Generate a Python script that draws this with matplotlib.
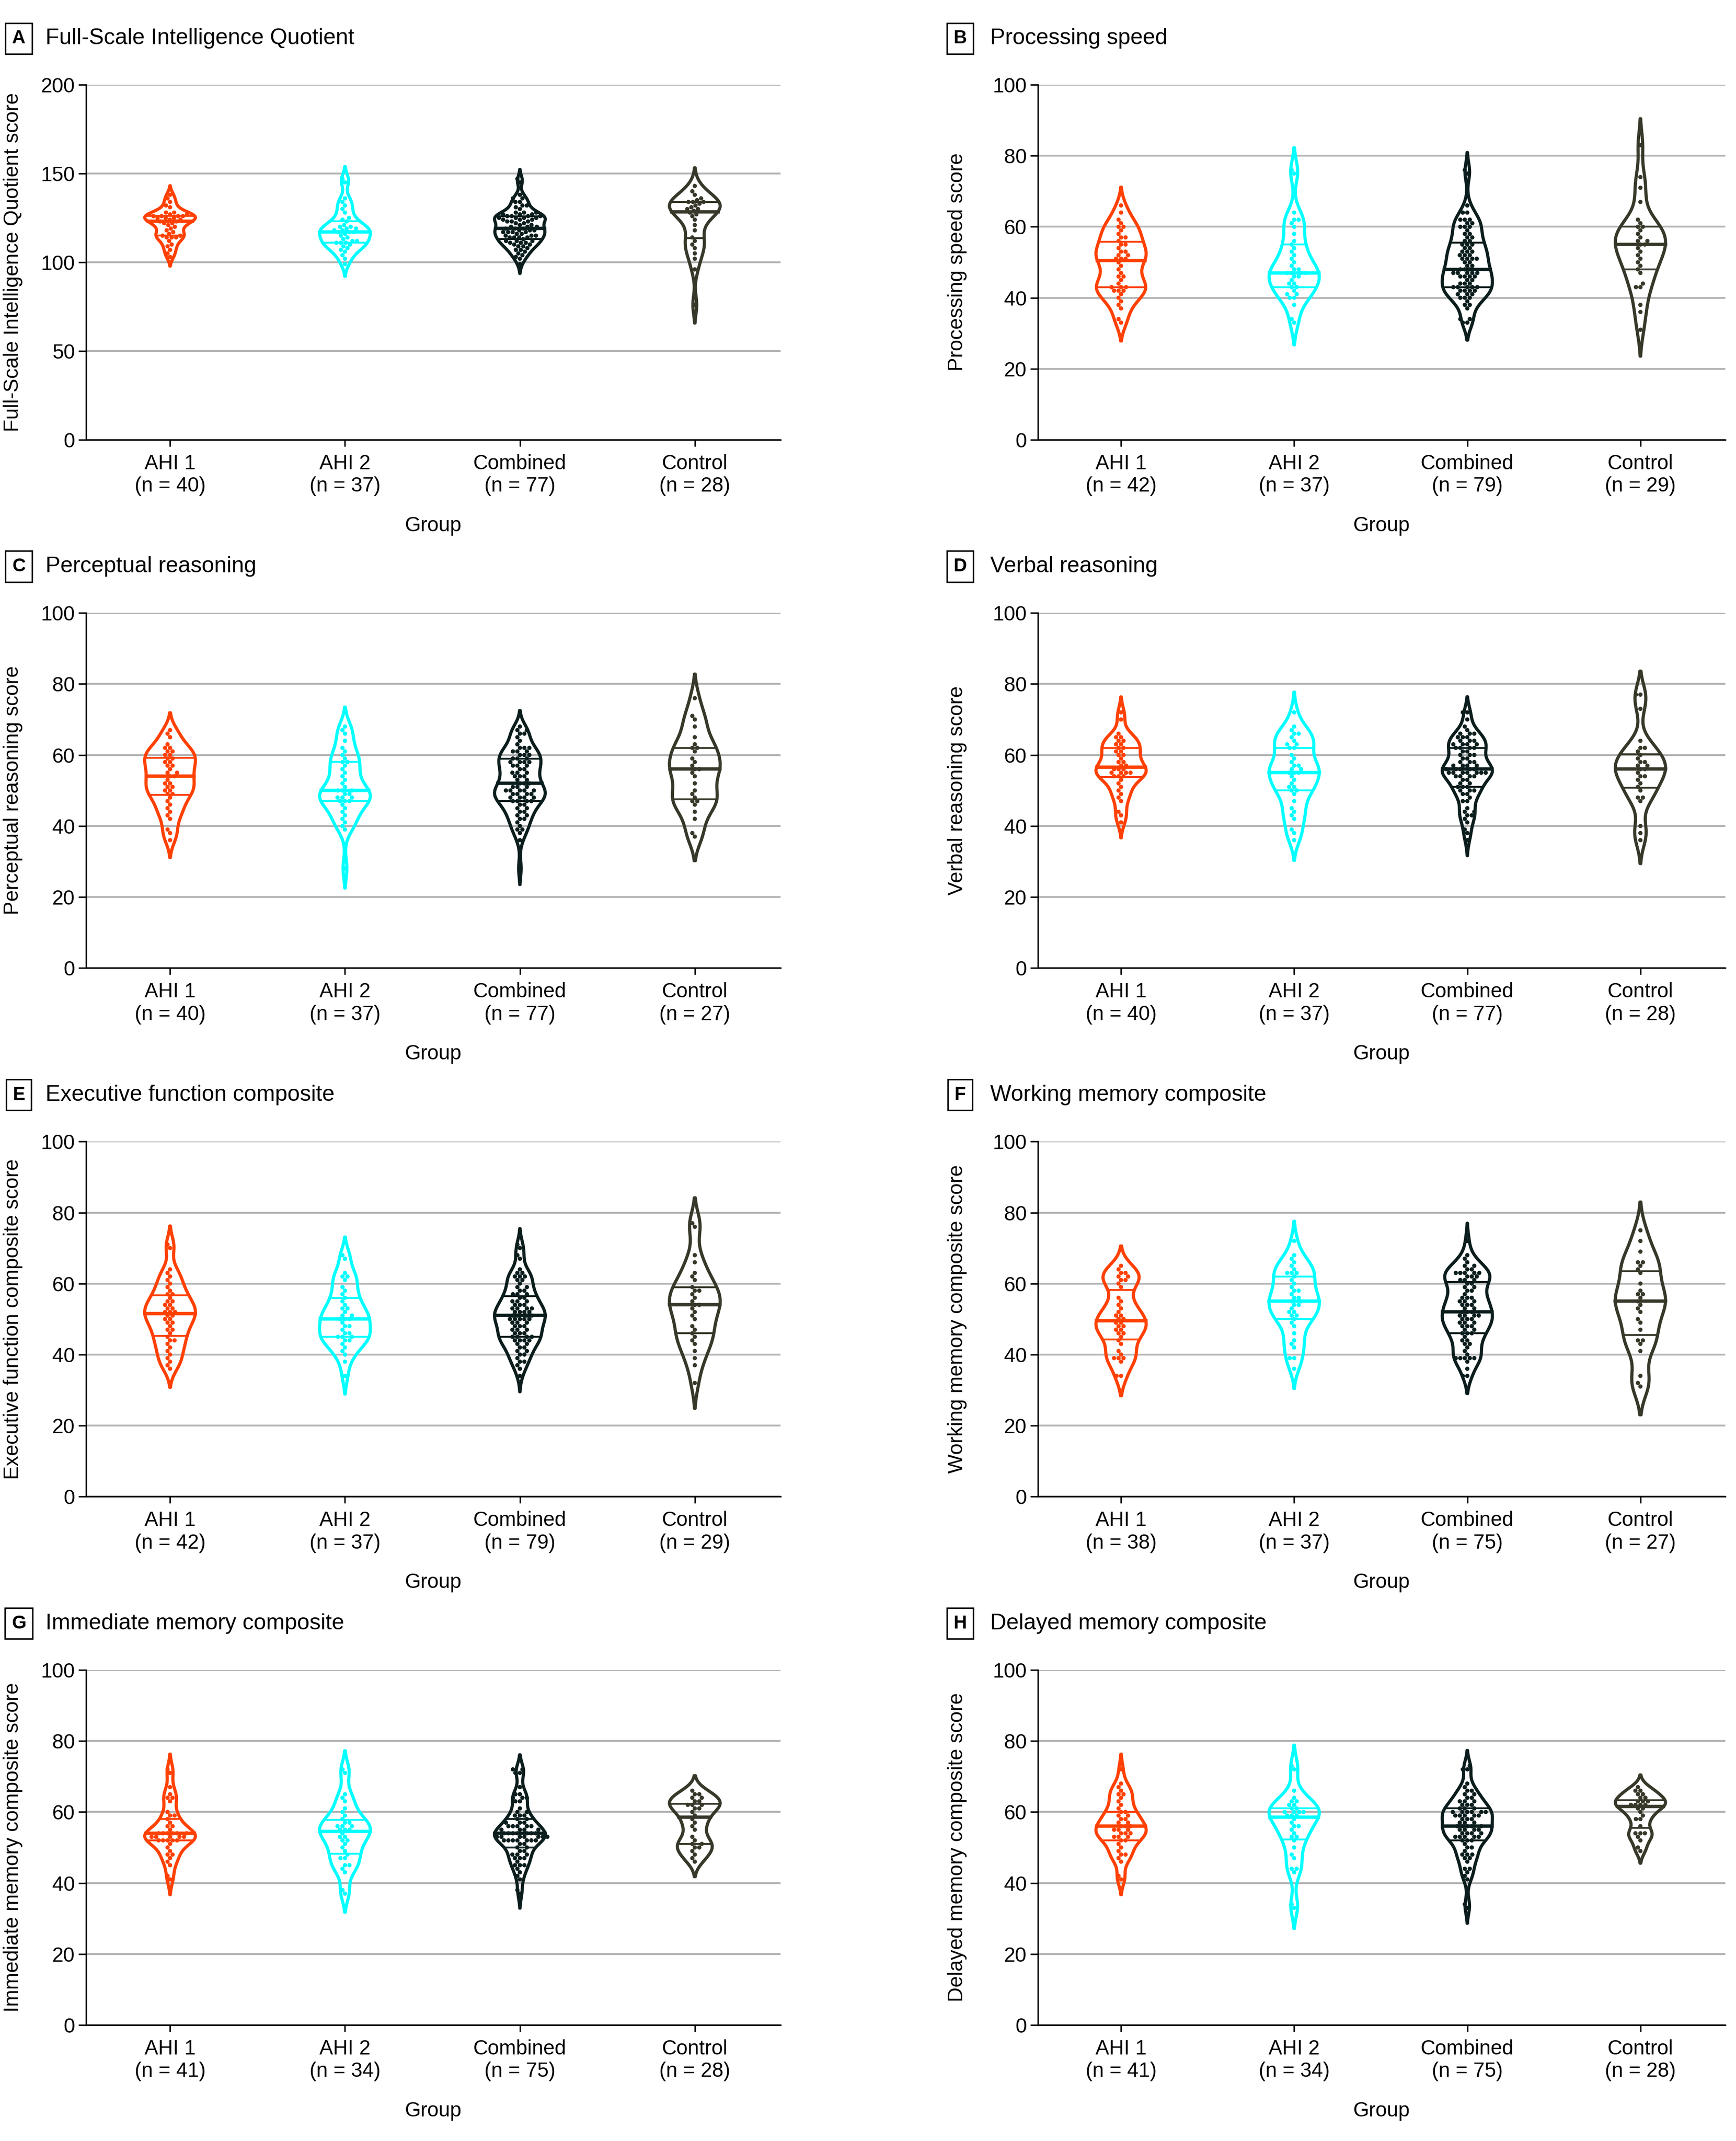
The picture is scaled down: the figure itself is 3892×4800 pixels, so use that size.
import matplotlib
matplotlib.use('Agg')
import matplotlib.pyplot as plt
import numpy as np
import pandas as pd
import seaborn as sns

# scores (Combined = AHI 1 + AHI 2)
ahi1_fsiq = [138,136,134,132,131,128,128,127,127,127,126,126,126,126,125,125,125,124,124,123,
             123,122,122,121,120,119,118,117,116,115,115,114,114,114,112,110,109,107,105,103]
ahi2_fsiq = [147,145,136,134,132,130,128,125,124,123,121,120,120,119,119,118,118,117,117,117,
             116,115,114,113,112,112,111,111,111,110,109,108,107,106,104,102,99]
ctrl_fsiq = [143,140,138,136,135,134,134,134,133,132,131,130,130,129,128,127,126,124,121,118,
             114,112,110,108,105,102,96,76]

ahi1_ps = [66,64,62,61,60,60,59,58,57,57,56,55,55,54,53,53,52,52,51,51,51,50,49,48,47,46,46,45,
           44,43,43,43,42,42,42,41,40,39,38,37,34,33]
ahi2_ps = [76,75,64,62,62,61,60,58,56,55,54,53,52,51,50,49,48,48,47,47,47,47,46,46,45,44,44,43,
           43,42,41,41,40,40,38,34,33]
ctrl_ps = [83,74,71,67,62,61,60,60,59,58,57,56,56,55,55,54,53,52,51,50,49,48,47,44,43,43,38,36,31]

ahi1_pr = [67,66,65,63,62,62,61,61,60,60,59,59,58,58,57,57,56,55,55,54,54,53,52,52,51,51,50,50,
           49,49,48,47,46,45,44,43,42,39,38,36]
ahi2_pr = [68,67,66,64,62,61,60,59,58,58,57,56,55,54,53,52,51,50,50,50,49,49,48,48,48,47,47,47,
           46,45,44,43,42,41,40,39,28]
ctrl_pr = [76,71,70,68,65,63,62,62,61,59,58,57,56,56,55,54,52,50,49,48,47,47,46,44,42,38,37]

ahi1_vr = [72,70,66,65,65,64,64,63,63,62,62,61,61,60,60,59,58,58,57,57,56,56,56,55,55,55,55,54,
           54,54,53,52,51,50,49,48,47,44,43,41]
ahi2_vr = [72,68,67,66,66,65,64,63,63,62,62,60,59,58,57,57,56,56,55,55,55,54,53,52,51,51,50,50,
           49,47,45,44,43,42,39,38,36]
ctrl_vr = [77,77,73,64,62,62,61,60,59,58,58,57,57,56,56,55,54,54,53,52,51,50,48,48,47,40,38,36]

ahi1_ef = [71,70,64,63,62,61,60,59,58,57,57,56,55,55,54,54,53,53,52,52,52,51,51,50,50,49,49,48,
           47,47,46,45,44,44,43,42,41,40,39,38,37,36]
ahi2_ef = [68,67,63,62,62,61,59,58,57,56,55,54,53,53,52,51,51,50,50,50,49,48,48,47,46,46,45,45,
           45,44,44,43,42,41,40,38,34]
ctrl_ef = [77,76,68,66,63,62,61,59,58,58,57,56,55,54,54,53,52,51,50,48,47,46,45,44,43,41,39,37,32]

ahi1_wm = [65,64,63,63,62,62,61,61,60,59,56,55,54,53,52,51,51,50,50,49,49,48,48,47,47,46,46,45,
           44,43,41,40,39,39,39,38,34,34]
ahi2_wm = [72,68,67,66,65,64,63,63,63,62,61,60,59,58,58,57,56,56,55,55,54,54,53,52,52,51,51,50,
           49,48,46,44,43,42,39,39,36]
ctrl_wm = [75,72,69,66,66,65,64,63,60,58,57,57,56,55,54,53,52,50,49,47,44,44,43,41,34,32,31]

ahi1_im = [72,71,67,65,64,64,63,60,59,59,58,57,56,56,55,54,54,54,54,54,54,53,53,53,53,53,52,52,
           52,52,52,51,50,49,48,48,47,46,45,42,41]
ahi2_im = [72,71,65,64,63,61,60,59,58,57,57,56,56,56,55,55,55,54,53,53,52,52,51,50,49,48,47,47,
           45,45,44,43,38,37]
ctrl_im = [66,65,65,64,64,63,63,62,62,62,61,61,60,59,58,57,56,55,53,52,51,51,50,50,49,48,47,46]

ahi1_dm = [72,68,67,66,65,65,64,63,62,61,60,60,59,59,58,58,57,57,56,56,56,55,55,55,54,54,54,53,
           53,53,52,52,51,50,49,48,48,47,46,42,41]
ahi2_dm = [73,72,66,64,63,63,62,62,61,61,60,60,60,60,59,59,59,58,57,56,56,55,54,53,53,52,50,48,
           47,44,44,43,34,33]
ctrl_dm = [67,66,66,65,65,64,64,63,63,63,62,62,62,62,61,61,60,59,58,58,56,54,54,54,53,52,50,49]

groups = ["AHI 1", "AHI 2", "Combined", "Control"]
colors = ["#ff4000", "#00ffff", "#0b1d1d", "#38382a"]

panels = [
    ("A", "Full-Scale Intelligence Quotient", "Full-Scale Intelligence Quotient score",
     ahi1_fsiq, ahi2_fsiq, ctrl_fsiq, [0, 50, 100, 150, 200]),
    ("B", "Processing speed", "Processing speed score", ahi1_ps, ahi2_ps, ctrl_ps, [0, 20, 40, 60, 80, 100]),
    ("C", "Perceptual reasoning", "Perceptual reasoning score", ahi1_pr, ahi2_pr, ctrl_pr, [0, 20, 40, 60, 80, 100]),
    ("D", "Verbal reasoning", "Verbal reasoning score", ahi1_vr, ahi2_vr, ctrl_vr, [0, 20, 40, 60, 80, 100]),
    ("E", "Executive function composite", "Executive function composite score",
     ahi1_ef, ahi2_ef, ctrl_ef, [0, 20, 40, 60, 80, 100]),
    ("F", "Working memory composite", "Working memory composite score",
     ahi1_wm, ahi2_wm, ctrl_wm, [0, 20, 40, 60, 80, 100]),
    ("G", "Immediate memory composite", "Immediate memory composite score",
     ahi1_im, ahi2_im, ctrl_im, [0, 20, 40, 60, 80, 100]),
    ("H", "Delayed memory composite", "Delayed memory composite score",
     ahi1_dm, ahi2_dm, ctrl_dm, [0, 20, 40, 60, 80, 100]),
]

plt.rcParams['font.family'] = ['Liberation Sans Narrow', 'Liberation Sans', 'DejaVu Sans']
plt.rcParams['font.size'] = 11

fig = plt.figure(figsize=(3892 / 300, 4800 / 300), dpi=300)

col_left = [0.0496, 0.5979]
col_width = [0.4000, 0.3959]
row_bottom = [0.7946, 0.5479, 0.3010, 0.0542]
row_height = 0.1658
title_y = [0.982, 0.7354, 0.4886, 0.2417]
box_x = [0.0108, 0.553]
text_x = [0.0262, 0.5705]
ylab_x = [-0.091, -0.103]

for k, (letter, title, ylabel, a1, a2, ctl, yticks) in enumerate(panels):
    r, c = k // 2, k % 2
    vals = [a1, a2, a1 + a2, ctl]
    df = pd.DataFrame({
        "group": np.repeat(groups, [len(v) for v in vals]),
        "score": np.concatenate([np.array(v, float) for v in vals]),
    })
    ax = fig.add_axes([col_left[c], row_bottom[r], col_width[c], row_height])
    sns.violinplot(data=df, x="group", y="score", hue="group", order=groups, hue_order=groups,
                   palette=colors, fill=False, inner="quart", linewidth=1.7, width=0.29,
                   density_norm="width", bw_adjust=0.65, legend=False, ax=ax)
    for i, ln in enumerate(ax.lines):
        ln.set_linestyle('-')
        ln.set_linewidth(1.8 if i % 3 == 1 else 1.0)
    sns.swarmplot(data=df, x="group", y="score", hue="group", order=groups, hue_order=groups,
                  palette=colors, size=2.3, legend=False, ax=ax)

    ax.set_ylim(yticks[0], yticks[-1])
    ax.set_yticks(yticks)
    ax.set_xlim(-0.48, 3.49)
    ax.set_xticks(range(4))
    ax.set_xticklabels([f"{g}\n(n = {len(v)})" for g, v in zip(groups, vals)])
    ax.yaxis.grid(True, color='#b4b4b4', linewidth=1.0)
    ax.xaxis.grid(False)
    ax.set_axisbelow(True)
    for s in ['top', 'right']:
        ax.spines[s].set_visible(False)
    for s in ['left', 'bottom']:
        ax.spines[s].set_linewidth(0.8)
        ax.spines[s].set_color('black')
    ax.tick_params(axis='x', length=3.6, width=0.8, pad=4, labelsize=11)
    ax.tick_params(axis='y', length=4, width=0.8, pad=2, labelsize=11)
    ax.set_xlabel("Group", fontsize=11)
    ax.xaxis.set_label_coords(0.5, -0.215)
    ax.set_ylabel(ylabel, fontsize=11)
    ax.yaxis.set_label_coords(ylab_x[c], 0.5)

    fig.text(box_x[c], title_y[r], letter, ha='center', va='center', fontsize=10, fontweight='bold',
             bbox=dict(boxstyle='square,pad=0.35', fc='white', ec='black', lw=0.8))
    fig.text(text_x[c], title_y[r], title, ha='left', va='center', fontsize=12)

fig.savefig("out.png", dpi=300)
